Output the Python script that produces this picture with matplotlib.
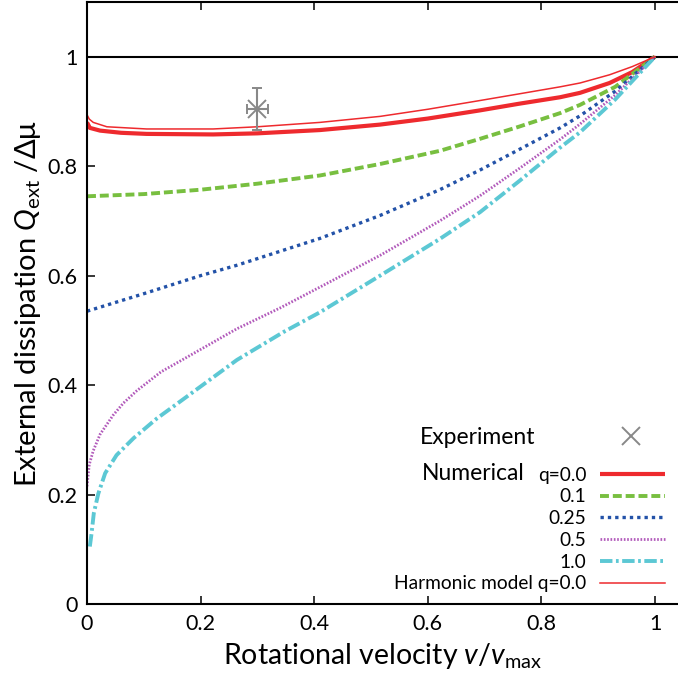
import matplotlib
matplotlib.use("Agg")
import matplotlib.pyplot as plt
from matplotlib.lines import Line2D

plt.rcParams['font.family'] = ['Lato', 'DejaVu Sans']
plt.rcParams['mathtext.fontset'] = 'custom'
plt.rcParams['mathtext.rm'] = 'Lato'
plt.rcParams['mathtext.it'] = 'Lato:italic'
plt.rcParams['mathtext.bf'] = 'Lato:bold'

# numerical model, q = 0.0
v_q00 = [0.0, 0.005, 0.023, 0.06, 0.105, 0.222, 0.30, 0.41, 0.516, 0.6, 0.692, 0.76, 0.833, 0.868, 0.92, 0.96, 1.0]
Q_q00 = [0.880, 0.870, 0.865, 0.861, 0.859, 0.858, 0.860, 0.866, 0.876, 0.887, 0.902, 0.914, 0.926, 0.934, 0.952, 0.972, 1.0]

# numerical model, q = 0.1
v_q01 = [0.0, 0.1, 0.2, 0.3, 0.41, 0.516, 0.621, 0.692, 0.76, 0.833, 0.868, 0.93, 1.0]
Q_q01 = [0.745, 0.749, 0.757, 0.768, 0.783, 0.804, 0.828, 0.850, 0.872, 0.897, 0.912, 0.945, 1.0]

# numerical model, q = 0.25
v_q025 = [0.0, 0.1, 0.2, 0.264, 0.41, 0.516, 0.621, 0.692, 0.76, 0.833, 0.868, 0.93, 1.0]
Q_q025 = [0.535, 0.567, 0.600, 0.619, 0.668, 0.710, 0.757, 0.793, 0.830, 0.870, 0.892, 0.937, 1.0]

# numerical model, q = 0.5
v_q05 = [0.0, 0.004, 0.011, 0.023, 0.046, 0.064, 0.088, 0.13, 0.176, 0.264, 0.34, 0.41, 0.516, 0.621, 0.692, 0.76, 0.833, 0.868, 0.93, 1.0]
Q_q05 = [0.215, 0.255, 0.280, 0.310, 0.345, 0.367, 0.390, 0.424, 0.451, 0.503, 0.541, 0.579, 0.637, 0.700, 0.746, 0.795, 0.849, 0.877, 0.930, 1.0]

# numerical model, q = 1.0
v_q10 = [0.005, 0.008, 0.012, 0.020, 0.032, 0.052, 0.082, 0.123, 0.164, 0.21, 0.264, 0.346, 0.41, 0.516, 0.621, 0.692, 0.76, 0.833, 0.868, 0.93, 1.0]
Q_q10 = [0.105, 0.129, 0.166, 0.202, 0.239, 0.272, 0.303, 0.339, 0.370, 0.405, 0.446, 0.497, 0.533, 0.600, 0.667, 0.716, 0.772, 0.834, 0.862, 0.922, 1.0]

# harmonic model, q = 0.0
v_harm = [0.0, 0.004, 0.011, 0.035, 0.105, 0.222, 0.30, 0.41, 0.516, 0.6, 0.692, 0.76, 0.833, 0.868, 0.92, 0.96, 1.0]
Q_harm = [0.894, 0.886, 0.880, 0.872, 0.868, 0.868, 0.872, 0.880, 0.891, 0.904, 0.920, 0.932, 0.945, 0.952, 0.967, 0.982, 1.0]

# experiment
v_exp, Q_exp = 0.3, 0.905
v_err, Q_err = 0.018, 0.038

fig = plt.figure(figsize=(6.78, 6.84), dpi=100)
ax = fig.add_axes([87 / 678, 1 - 604 / 684, 591 / 678, 602 / 684])

ax.axhline(1.0, color='black', lw=1.5, zorder=1)

l_q00, = ax.plot(v_q00, Q_q00, color='#ee2a2e', lw=3.0, solid_capstyle='butt')
l_q01, = ax.plot(v_q01, Q_q01, color='#78bf40', lw=2.8, dashes=(2.3, 1.0))
l_q025, = ax.plot(v_q025, Q_q025, color='#2352a8', lw=2.4, dashes=(1.0, 1.2))
l_q05, = ax.plot(v_q05, Q_q05, color='#b25bbb', lw=2.0, dashes=(0.6, 0.6))
l_q10, = ax.plot(v_q10, Q_q10, color='#5cc8d4', lw=2.8, dashes=(3.2, 0.9, 0.7, 0.9))
l_harm, = ax.plot(v_harm, Q_harm, color='#ee2a2e', lw=1.1)

ax.errorbar(v_exp, Q_exp, xerr=v_err, yerr=Q_err, fmt='x', color='#888888',
            ms=13, mew=1.4, elinewidth=1.5, capsize=3.5, capthick=1.5, zorder=5)

ax.set_xlim(0, 1.0405)
ax.set_ylim(0, 1.1)
ax.set_xticks([0, 0.2, 0.4, 0.6, 0.8, 1.0])
ax.set_xticklabels(['0', '0.2', '0.4', '0.6', '0.8', '1'])
ax.set_yticks([0, 0.2, 0.4, 0.6, 0.8, 1.0])
ax.set_yticklabels(['0', '0.2', '0.4', '0.6', '0.8', '1'])
ax.tick_params(direction='in', length=6, width=1.1, labelsize=15.5, pad=7,
               top=True, right=False, colors='black')
ax.spines['right'].set_visible(False)
for side in ['left', 'bottom', 'top']:
    ax.spines[side].set_linewidth(1.5)

ax.set_xlabel('Rotational velocity $v/v_{\\mathrm{max}}$', fontsize=20.5, labelpad=5)
ax.set_ylabel('External dissipation $Q_{\\mathrm{ext}}$ /Δμ', fontsize=21, labelpad=3)

# key: curves on the right, labels right-aligned in front of them
handles = [l_q00, l_q01, l_q025, l_q05, l_q10, l_harm]
labels = ['q=0.0', '0.1', '0.25', '0.5', '1.0', 'Harmonic model q=0.0']
leg = ax.legend(handles, labels, markerfirst=False, frameon=False, fontsize=13.8,
                handlelength=3.4, handletextpad=0.7, labelspacing=0.25,
                loc='lower right', bbox_to_anchor=(0.997, 0.0),
                borderaxespad=0.2)
ax.add_artist(leg)

exp_handle = Line2D([], [], ls='none', marker='x', color='#888888', ms=13, mew=1.4)
leg2 = ax.legend([exp_handle], [''], markerfirst=False, frameon=False, fontsize=12,
                 handlelength=4.0, handletextpad=0.0, loc='center',
                 bbox_to_anchor=((631 - 87) / 591, (604 - 437) / 602))

ax.text((535 - 87) / 591, (604 - 437) / 602, 'Experiment', transform=ax.transAxes,
        ha='right', va='center', fontsize=16.5)
ax.text((525 - 87) / 591, (604 - 473) / 602, 'Numerical', transform=ax.transAxes,
        ha='right', va='center', fontsize=16.5)

fig.savefig('out.png', dpi=100)
